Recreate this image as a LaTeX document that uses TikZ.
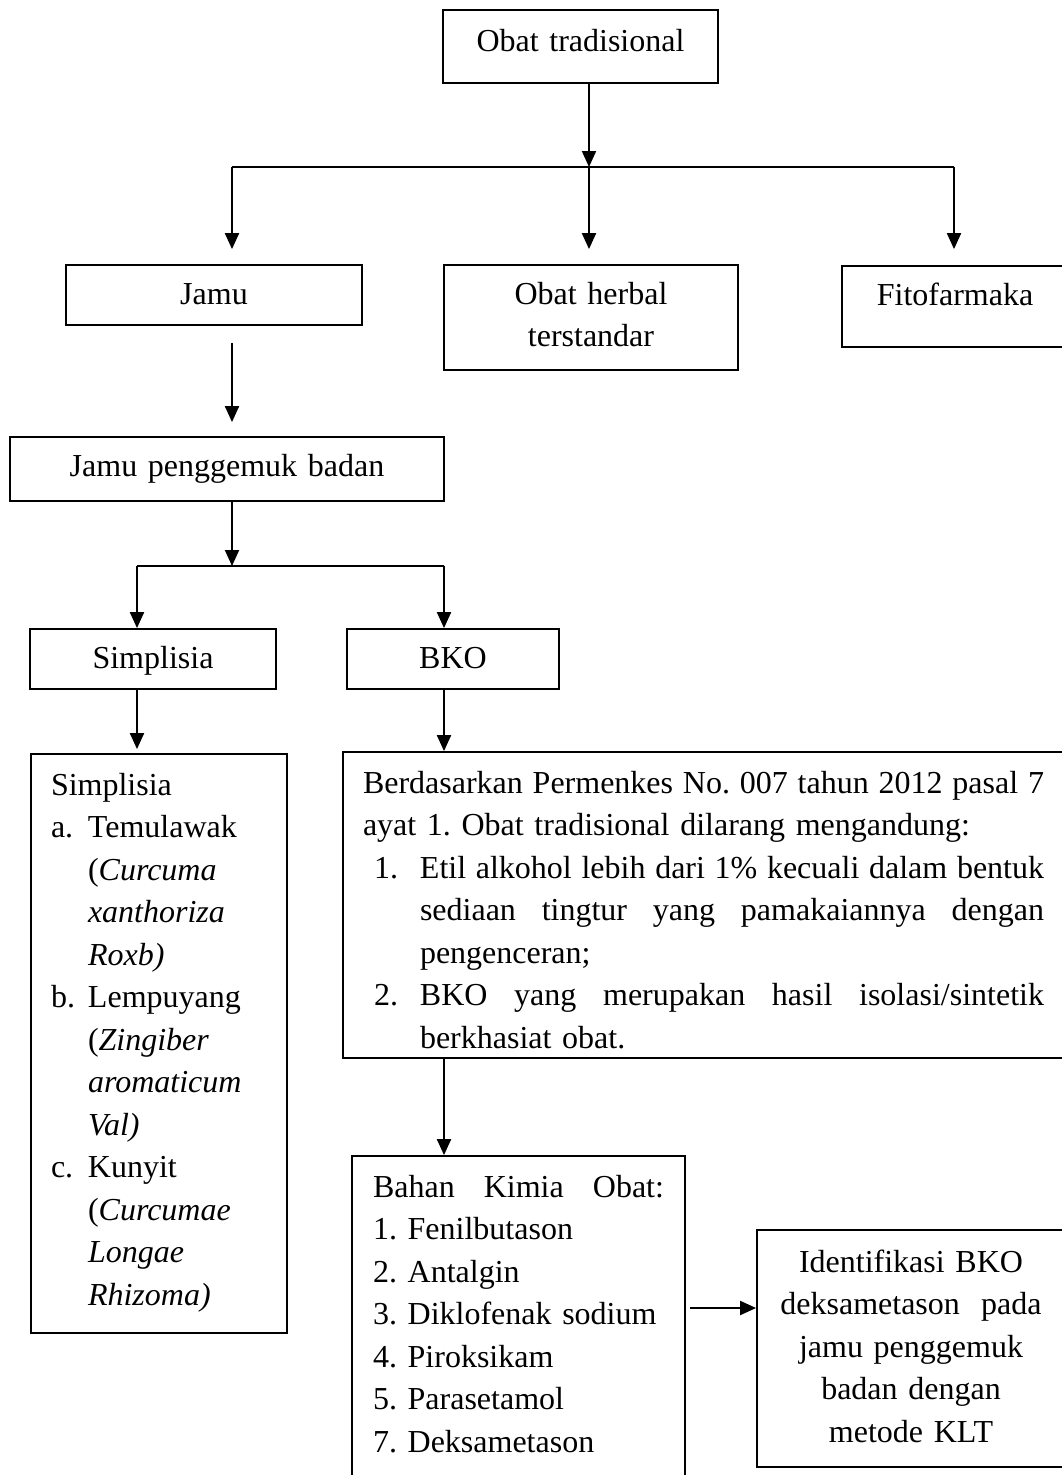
\documentclass[tikz,border=0pt]{standalone}
\usepackage{fontspec}
\setmainfont{Liberation Serif}
\usetikzlibrary{arrows.meta}
\frenchspacing

\begin{document}
\begin{tikzpicture}[x=1pt,y=-1pt,
  every node/.style={font={\fontsize{32}{42.5}\selectfont}},
  kotak/.style={draw,line width=1.8pt,anchor=base,inner ysep=0pt,inner xsep=0pt,align=center},
  panah/.style={line width=2pt,-{Triangle[length=16pt,width=14pt]}},
  garis/.style={line width=2pt}]
\useasboundingbox (0,0) rectangle (1062,1475);
\clip (0,0) rectangle (1062,1475);

\node[kotak,text width=275pt,text height=41pt,text depth=32pt] (obat) at (580.5,51) {Obat tradisional};
\node[kotak,text width=296pt,text height=39pt,text depth=21pt] (jamu) at (214,304) {Jamu};
\node[kotak,text width=294pt,text height=39pt,text depth=66pt] (herbal) at (591,304) {Obat herbal\\terstandar};
\node[kotak,text width=226pt,text height=39pt,text depth=42pt] (fito) at (955,305) {Fitofarmaka};
\node[kotak,text width=434pt,text height=39pt,text depth=25pt] (gemuk) at (227,476) {Jamu penggemuk badan};
\node[kotak,text width=246pt,text height=39pt,text depth=21pt] (simp) at (153,668) {Simplisia};
\node[kotak,text width=212pt,text height=39pt,text depth=21pt] (bko) at (453,668) {BKO};

\node[kotak,align=left,inner xsep=20pt,text width=216pt,text height=41pt,text depth=538pt] (daftar) at (159,795) {Simplisia\\
\makebox[37pt][l]{a.}Temulawak\\
\hspace*{37pt}(\textit{Curcuma}\\
\hspace*{37pt}\textit{xanthoriza}\\
\hspace*{37pt}\textit{Roxb)}\\
\makebox[37pt][l]{b.}Lempuyang\\
\hspace*{37pt}(\textit{Zingiber}\\
\hspace*{37pt}\textit{aromaticum}\\
\hspace*{37pt}\textit{Val)}\\
\makebox[37pt][l]{c.}Kunyit\\
\hspace*{37pt}(\textit{Curcumae}\\
\hspace*{37pt}\textit{Longae}\\
\hspace*{37pt}\textit{Rhizoma)}};

\node[kotak,align=left,inner xsep=20pt,text width=681pt,text height=41pt,text depth=265pt] (perm) at (703.5,793) {\makebox[681pt][s]{\spaceskip0pt Berdasarkan Permenkes No. 007 tahun 2012 pasal 7}\\
ayat 1. Obat tradisional dilarang mengandung:\\
\hspace*{11pt}\makebox[46pt][l]{1.}\makebox[624pt][s]{\spaceskip0pt Etil alkohol lebih dari 1\% kecuali dalam bentuk}\\
\hspace*{57pt}\makebox[624pt][s]{\spaceskip0pt sediaan tingtur yang pamakaiannya dengan}\\
\hspace*{57pt}pengenceran;\\
\hspace*{11pt}\makebox[46pt][l]{2.}\makebox[624pt][s]{\spaceskip0pt BKO yang merupakan hasil isolasi/sintetik}\\
\hspace*{57pt}berkhasiat obat.};

\node[kotak,align=left,inner xsep=21pt,text width=291pt,text height=41pt,text depth=303pt] (bahan) at (518.5,1197) {\makebox[291pt][s]{\spaceskip0pt Bahan Kimia Obat:}\\
1. Fenilbutason\\
2. Antalgin\\
3. Diklofenak sodium\\
4. Piroksikam\\
5. Parasetamol\\
7. Deksametason};

\node[kotak,text width=308pt,text height=42pt,text depth=195pt] (ident) at (911,1272) {Identifikasi BKO\\deksametason\ \ pada\\jamu penggemuk\\badan dengan\\metode KLT};

\coordinate (t0) at (589,167);
\coordinate (tl) at (232,167);
\coordinate (tr) at (954,167);
\draw[panah] (obat.south -| t0) -- (t0);
\draw[garis] (tl) -- (tr);
\draw[panah,shorten >=15pt] (tl) -- (tl |- jamu.north);
\draw[panah,shorten >=15pt] (t0) -- (t0 |- herbal.north);
\draw[panah,shorten >=16pt] (tr) -- (tr |- fito.north);
\draw[panah,shorten <=17pt,shorten >=14pt] (jamu.south -| tl) -- (tl |- gemuk.north);

\coordinate (s0) at (232,566);
\coordinate (sl) at (137,566);
\coordinate (sr) at (444,566);
\draw[panah] (gemuk.south -| s0) -- (s0);
\draw[garis] (sl) -- (sr);
\draw[panah] (sl) -- (sl |- simp.north);
\draw[panah] (sr) -- (sr |- bko.north);
\draw[panah,shorten >=4pt] (simp.south -| sl) -- (sl |- daftar.north);
\draw[panah] (bko.south -| sr) -- (sr |- perm.north);
\draw[panah] (perm.south -| sr) -- (sr |- bahan.north);

\coordinate (ka) at (690,1308);
\draw[panah] (ka) -- (ka -| ident.west);
\end{tikzpicture}
\end{document}
